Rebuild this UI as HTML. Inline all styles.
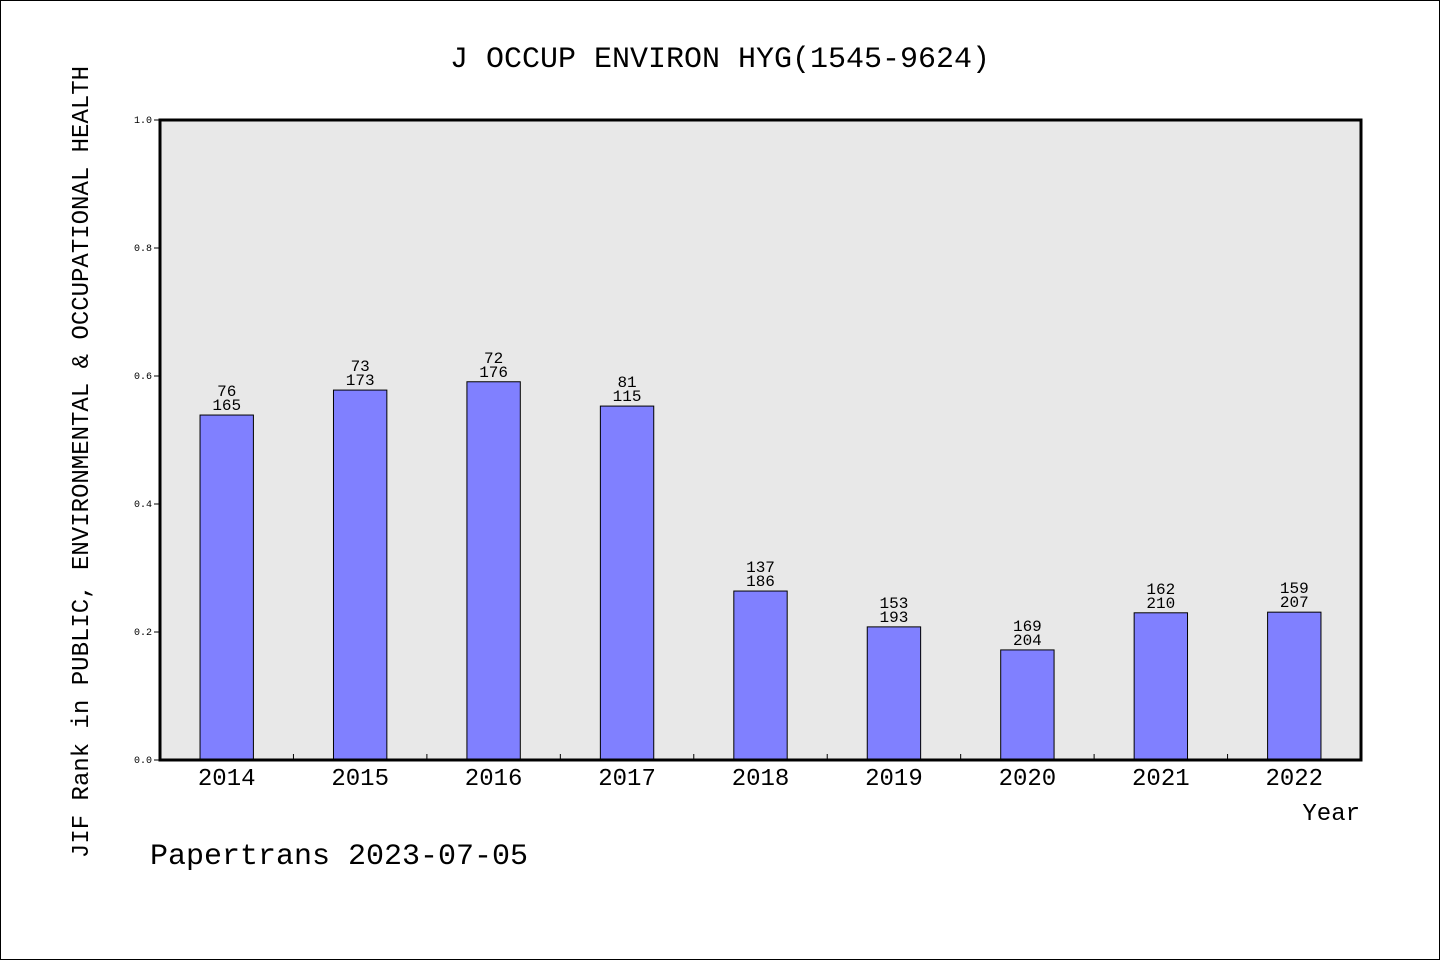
<!DOCTYPE html>
<html><head><meta charset="utf-8"><style>
html,body{margin:0;padding:0;background:#fff}
svg{display:block}
text{font-family:"Liberation Mono","WenQuanYi Zen Hei",monospace;fill:#000}
</style></head><body>
<svg id="chart" width="1440" height="960" viewBox="0 0 1440 960" xmlns="http://www.w3.org/2000/svg">
<rect x="0.5" y="0.5" width="1439" height="959" fill="#fff" stroke="#000"/>
<text x="720" y="67" font-size="30" text-anchor="middle">J OCCUP ENVIRON HYG(1545-9624)</text>
<rect x="160" y="120" width="1201" height="640" fill="#e8e8e8"/>
<g id="marks"></g>
<rect x="160" y="120" width="1201" height="640" fill="none" stroke="#000" stroke-width="3"/>
<text transform="translate(88,462) rotate(-90)" font-size="24" text-anchor="middle">JIF Rank in PUBLIC, ENVIRONMENTAL &amp; OCCUPATIONAL HEALTH</text>
<text x="1360" y="820" font-size="24" text-anchor="end">Year</text>
<text x="150" y="864" font-size="30">Papertrans 2023-07-05</text>
</svg>
<script>
const years = ["2014","2015","2016","2017","2018","2019","2020","2021","2022"];
const values = [0.539,0.578,0.591,0.553,0.264,0.208,0.172,0.230,0.231];
const ranks = ["76","73","72","81","137","153","169","162","159"];
const totals = ["165","173","176","115","186","193","204","210","207"];
const yTicks = ["0.0","0.2","0.4","0.6","0.8","1.0"];
const X0=160,X1=1361,Y0=760,Y1=120;
const slot=(X1-X0)/years.length;
const xc=i=>X0+slot*(i+0.5);
const y=v=>Y0-(v)*(Y0-Y1);
const NS="http://www.w3.org/2000/svg";
const g=document.getElementById('marks');
function mk(tag,attrs,txt){const e=document.createElementNS(NS,tag);for(const k in attrs)e.setAttribute(k,attrs[k]);if(txt!==undefined)e.textContent=txt;g.appendChild(e);return e;}
yTicks.forEach(t=>{const v=parseFloat(t);
 const l=mk('line',{x1:X0-6,x2:X0,y1:y(v),y2:y(v),stroke:'#000'});
 
 
 const tx=mk('text',{x:X0-8,y:y(v)+3,'font-size':10,'text-anchor':'end'},t);
 
 
});
for(let i=1;i<years.length;i++){
 const l=mk('line',{x1:X0+slot*i,x2:X0+slot*i,y1:Y0,y2:Y0-6,stroke:'#000'});
 
 
}
const bw=slot*0.4;
years.forEach((yr,i)=>{
 const b=mk('rect',{x:xc(i)-bw/2,y:y(values[i]),width:bw,height:Y0-y(values[i]),fill:'#8080ff',stroke:'#000','stroke-width':1});
 
 
 const r=mk('text',{x:xc(i),y:y(values[i])-19,'font-size':16,'text-anchor':'middle'},ranks[i]);
 
 
 const t=mk('text',{x:xc(i),y:y(values[i])-5,'font-size':16,'text-anchor':'middle'},totals[i]);
 
 
 const xl=mk('text',{x:xc(i),y:Y0+25,'font-size':24,'text-anchor':'middle'},yr);
 
 
});
</script>
</body></html>
